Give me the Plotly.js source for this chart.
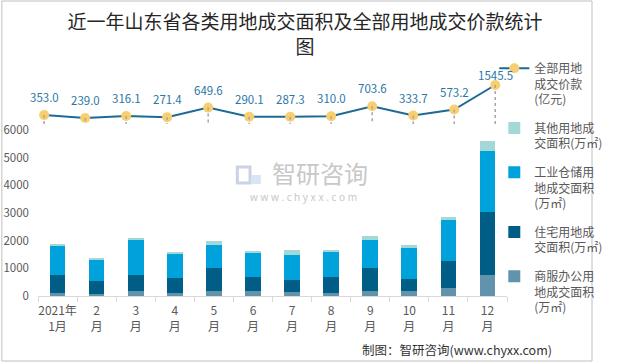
<!DOCTYPE html>
<html><head><meta charset="utf-8">
<script src="https://cdn.plot.ly/plotly-3.0.1.min.js"></script>
<style>html,body{margin:0;padding:0;background:#fff;} #chart{width:620px;height:364px;}</style>
</head><body><div id="chart"></div>
<script>
// ---- data ----
const months = ['2021年<br>1月','2<br>月','3<br>月','4<br>月','5<br>月','6<br>月','7<br>月','8<br>月','9<br>月','10<br>月','11<br>月','12<br>月'];
const commercial  = [108, 72, 181, 98, 170, 181, 145, 108, 181, 170, 277, 759];
const residential = [651, 481, 578, 542, 853, 494, 433, 567, 842, 433, 988, 2289];
const industrial  = [1059, 737, 1254, 889, 809, 879, 916, 903, 1013, 1132, 1482, 2193];
const other       = [72, 72, 72, 50, 156, 61, 169, 85, 121, 108, 96, 373];
const price       = [353.0, 239.0, 316.1, 271.4, 649.6, 290.1, 287.3, 310.0, 703.6, 333.7, 573.2, 1545.5];
const yTicks = [0, 1000, 2000, 3000, 4000, 5000, 6000];
const names = {
  commercial: '商服办公用<br>地成交面积<br>(万㎡)',
  residential: '住宅用地成<br>交面积(万㎡)',
  industrial: '工业仓储用<br>地成交面积<br>(万㎡)',
  other: '其他用地成<br>交面积(万㎡)',
  price: '全部用地<br>成交价款<br>(亿元)'
};

// ---- layout helpers (pixel geometry) ----
const W = 620, H = 364;
const PL = 38, PR = 518, PT = 62, PB = 296;
const px2x = p => (p - PL) / (PR - PL);
const px2y = p => (PB - p) / (PB - PT);

function barTrace(y, name, color, grp, rank) {
  return {type: 'bar', x: months, y: y, name: name, marker: {color: color},
          legendgroup: grp, legendrank: rank, hoverinfo: 'y+name'};
}

const traces = [
  barTrace(commercial, names.commercial, '#6193AD', 'g1', 5),
  barTrace(residential, names.residential, '#005E86', 'g2', 4),
  barTrace(industrial, names.industrial, '#00A2DB', 'g3', 3),
  barTrace(other, names.other, '#A3D8D7', 'g4', 2),
  {type: 'scatter', mode: 'lines+markers', x: months, y: price, name: names.price,
   xaxis: 'x2', yaxis: 'y2', legendgroup: 'g5', legendrank: 1,
   line: {color: '#1E6995', width: 2},
   marker: {color: '#F8CF70', size: 10}}
];

// drop lines from each price point down to zero
const dx = [], dy = [];
months.forEach((m, i) => { dx.push(m, m, null); dy.push(price[i], 0, null); });
traces.push({type: 'scatter', mode: 'lines', x: dx, y: dy, xaxis: 'x2', yaxis: 'y2',
  showlegend: false, hoverinfo: 'skip', connectgaps: false,
  line: {color: '#A6A6A6', width: 1.5, dash: 'dot'}});

const annotations = price.map((v, i) => ({
  xref: 'x2', yref: 'y2', x: months[i], y: v, text: v.toFixed(1), showarrow: false,
  yshift: i === price.length - 1 ? 10 : 18,
  font: {family: 'Noto Sans CJK SC, sans-serif', size: 11.5, color: '#2A77A6'}
}));

// watermark
annotations.push({xref: 'paper', yref: 'paper', x: px2x(327), y: px2y(172), yanchor: 'middle', text: '智研咨询',
  showarrow: false, font: {family: 'Noto Sans CJK SC', size: 24, color: '#C8C8C8'}});
annotations.push({xref: 'paper', yref: 'paper', x: px2x(310), y: px2y(197), yanchor: 'middle', text: 'w w w . c h y x x . c o m',
  showarrow: false, font: {family: 'Noto Sans', size: 10, color: '#C8C8C8'}});
// footer
annotations.push({xref: 'paper', yref: 'paper', x: px2x(566), y: px2y(349), xanchor: 'right', yanchor: 'middle',
  text: '制图：智研咨询(www.chyxx.com)', showarrow: false,
  font: {family: 'Noto Sans CJK SC', size: 12.5, color: '#333333'}});

const shapes = [
  {type: 'rect', xref: 'paper', yref: 'paper', x0: px2x(1), x1: px2x(605), y0: px2y(361), y1: px2y(1),
   line: {color: '#BFBFBF', width: 1}},
  // watermark logo
  {type: 'rect', xref: 'paper', yref: 'paper', x0: px2x(242), x1: px2x(255), y0: px2y(183), y1: px2y(167),
   line: {color: '#C9D3E3', width: 3}},
  {type: 'rect', xref: 'paper', yref: 'paper', x0: px2x(256), x1: px2x(266), y0: px2y(184), y1: px2y(175),
   fillcolor: '#D6E6F4', line: {width: 0}}
];

const layout = {
  width: W, height: H,
  margin: {l: PL, r: W - PR, t: PT, b: H - PB, pad: 0},
  paper_bgcolor: '#ffffff', plot_bgcolor: '#ffffff',
  barmode: 'stack', bargap: 0.6,
  font: {family: 'Noto Sans CJK SC, sans-serif', color: '#595959'},
  title: {text: '近一年山东省各类用地成交面积及全部用地成交价款统计<br>图',
          xref: 'container', yref: 'container', x: 0.492, xanchor: 'center', y: 1 - 29 / H, yanchor: 'top',
          font: {family: 'Noto Sans CJK SC', size: 19, color: '#262626'}},
  xaxis: {type: 'category', range: [-0.5, 11.5], showline: true, linecolor: '#D9D9D9', linewidth: 1,
          ticks: 'outside', tickson: 'boundaries', ticklen: 5, tickcolor: '#D9D9D9', tickangle: 0,
          ticklabelstandoff: 4,
          showgrid: false, zeroline: false, tickfont: {size: 12, color: '#595959'}},
  yaxis: {range: [0, (PB - PT) / 27.67 * 1000], tickvals: yTicks, showgrid: false, zeroline: false,
          showline: false, ticks: '', ticklabelstandoff: 8, tickfont: {size: 11.5, color: '#595959'}},
  xaxis2: {type: 'category', overlaying: 'x', range: [-0.15, 11.287], visible: false},
  yaxis2: {overlaying: 'y', range: [(124 - PB) / 0.02524, (124 - PT) / 0.02524], visible: false},
  legend: {x: px2x(505), y: px2y(54), xanchor: 'left', yanchor: 'top', traceorder: 'grouped',
           tracegroupgap: 10, valign: 'top', bgcolor: 'rgba(0,0,0,0)', maxheight: 330,
           font: {family: 'Noto Sans CJK SC', size: 12, color: '#595959'}},
  annotations: annotations, shapes: shapes,
  showlegend: true
};

Plotly.newPlot('chart', traces, layout, {displayModeBar: false, staticPlot: true});
</script>
</body></html>
